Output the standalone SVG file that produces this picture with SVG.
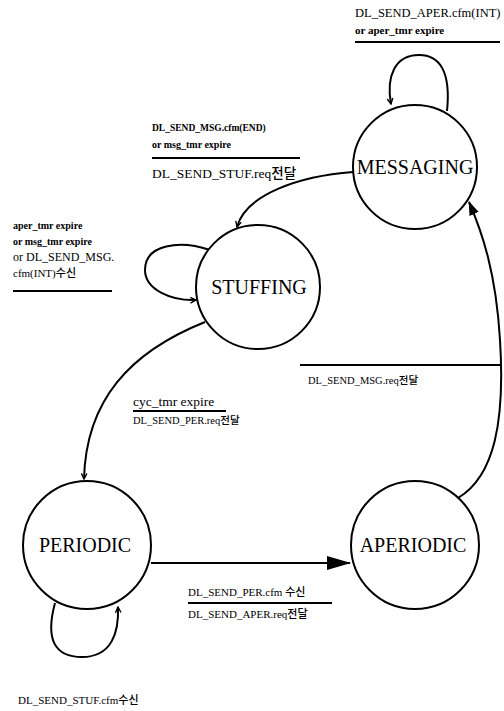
<svg xmlns="http://www.w3.org/2000/svg" width="504" height="711" viewBox="0 0 504 711">
  <style>
    .state { fill: #fff; stroke: #000; stroke-width: 2; }
    .name { font-family: "Liberation Serif", "Noto Sans CJK KR", serif; font-size: 20px; text-anchor: middle; fill: #000; }
    .lbl { font-family: "Liberation Serif", "Noto Sans CJK KR", serif; font-size: 11px; fill: #000; }
    .sm { font-family: "Liberation Serif", "Noto Sans CJK KR", serif; font-size: 10px; font-weight: bold; fill: #000; }
    .ko { font-weight: 500; }
    .rule { stroke: #000; stroke-width: 2; }
    .edge { fill: none; stroke: #000; stroke-width: 2; }
  </style>
  <defs>
    <marker id="open" viewBox="0 0 10 10" refX="9" refY="5" markerWidth="7" markerHeight="7" orient="auto" markerUnits="userSpaceOnUse">
      <path d="M1,1 L9,5 L1,9" fill="none" stroke="#000" stroke-width="2"/>
    </marker>
    <marker id="solid" viewBox="0 0 24 14" refX="23" refY="7" markerWidth="24" markerHeight="14" orient="auto" markerUnits="userSpaceOnUse">
      <path d="M0,0 L24,7 L0,14 Z" fill="#000"/>
    </marker>
    <marker id="solid-sm" viewBox="0 0 14 10" refX="13" refY="5" markerWidth="14" markerHeight="10" orient="auto" markerUnits="userSpaceOnUse">
      <path d="M0,0 L14,5 L0,10 Z" fill="#000"/>
    </marker>
  </defs>
  <rect width="504" height="711" fill="#fff"/>

  <!-- transitions -->
  <g id="connectors">
    <path class="edge" d="M447,111 C451,72 440,55 419,55 C395,55 386,76 391,104" marker-end="url(#open)"/>
    <path class="edge" d="M353,172 C300,176 246,194 237,227" marker-end="url(#open)"/>
    <path class="edge" d="M210,250 C180,240 145,244 145,270 C145,290 172,301 196,300" marker-end="url(#open)"/>
    <path class="edge" d="M205,322 C130,352 86,400 84,479" marker-end="url(#open)"/>
    <path class="edge" d="M151,563 L350,563" marker-end="url(#solid)"/>
    <path class="edge" d="M55,603 C45,640 55,657 82,657 C112,657 119,632 118,607" marker-end="url(#open)"/>
    <path class="edge" d="M458,498 C495,476 505,420 500,340 C496,272 482,232 469,202" marker-end="url(#solid-sm)"/>
  </g>

  <!-- states -->
  <g id="messaging">
    <circle class="state" cx="415" cy="167" r="62"/>
    <text class="name" x="415" y="174">MESSAGING</text>
  </g>
  <g id="stuffing">
    <circle class="state" cx="258" cy="287" r="62"/>
    <text class="name" x="259" y="294">STUFFING</text>
  </g>
  <g id="periodic">
    <circle class="state" cx="87" cy="545" r="64"/>
    <text class="name" x="85" y="552">PERIODIC</text>
  </g>
  <g id="aperiodic">
    <circle class="state" cx="415" cy="545" r="64"/>
    <text class="name" x="413" y="552">APERIODIC</text>
  </g>

  <!-- transition labels -->
  <g id="labels">
    <text class="lbl" x="355" y="17" style="font-size:12.5px">DL_SEND_APER.cfm(INT)</text>
    <text class="sm" x="355" y="34" style="font-size:11px">or aper_tmr expire</text>
    <line class="rule" x1="355" y1="42" x2="500" y2="42"/>

    <text class="sm" x="152" y="131" style="font-size:9.5px">DL_SEND_MSG.cfm(END)</text>
    <text class="sm" x="152" y="148">or msg_tmr expire</text>
    <line class="rule" x1="152" y1="158" x2="300" y2="158"/>
    <text class="lbl" x="152" y="178" style="font-size:13.5px">DL_SEND_STUF.req<tspan class="ko">전달</tspan></text>

    <text class="sm" x="13" y="229">aper_tmr expire</text>
    <text class="sm" x="13" y="245">or msg_tmr expire</text>
    <text class="lbl" x="13" y="261" style="font-size:12px">or DL_SEND_MSG.</text>
    <text class="lbl" x="13" y="277">cfm(INT)<tspan class="ko">수신</tspan></text>
    <line class="rule" x1="13" y1="291" x2="112" y2="291"/>

    <line class="rule" x1="300" y1="365" x2="502" y2="365"/>
    <text class="lbl" x="308" y="384" style="font-size:10.5px">DL_SEND_MSG.req<tspan class="ko">전달</tspan></text>

    <text class="lbl" x="133" y="406" style="font-size:13.5px">cyc_tmr expire</text>
    <line class="rule" x1="133" y1="411" x2="226" y2="411"/>
    <text class="lbl" x="133" y="424" style="font-size:10.5px">DL_SEND_PER.req<tspan class="ko">전달</tspan></text>

    <text class="lbl" x="188" y="596">DL_SEND_PER.cfm <tspan class="ko">수신</tspan></text>
    <line class="rule" x1="188" y1="603" x2="332" y2="603"/>
    <text class="lbl" x="188" y="618">DL_SEND_APER.req<tspan class="ko">전달</tspan></text>

    <text class="lbl" x="18" y="704">DL_SEND_STUF.cfm<tspan class="ko">수신</tspan></text>
  </g>
</svg>
